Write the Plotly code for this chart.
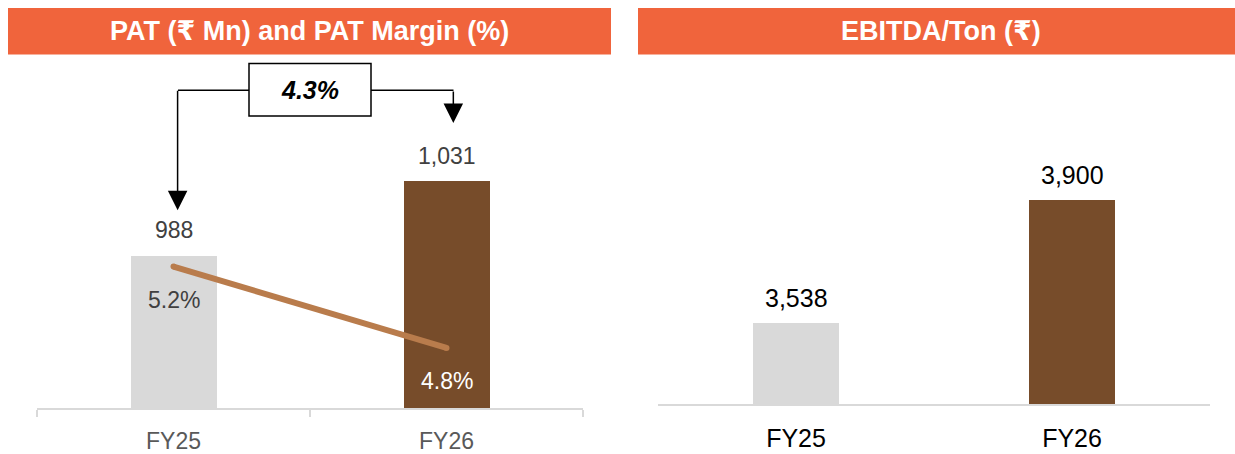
import plotly.graph_objects as go

# ---------------- data ----------------
years = ["FY25", "FY26"]
pat_values = [988, 1031]
pat_labels = ["988", "1,031"]
pat_margin = [5.2, 4.8]
pat_margin_labels = ["5.2%", "4.8%"]
pat_growth_label = "4.3%"
ebitda_ton = [3538, 3900]
ebitda_labels = ["3,538", "3,900"]
left_title = "PAT (₹ Mn) and PAT Margin (%)"
right_title = "EBITDA/Ton (₹)"

# ---------------- styles ----------------
W, H = 1235, 454
FONT = "Liberation Sans, Arial, DejaVu Sans, sans-serif"
ORANGE = "#F0643C"
GREY_BAR = "#D9D9D9"
BROWN_BAR = "#774C2A"
LINE_TAN = "#B97C4C"
DARK_TXT = "#404040"
AXIS_TXT = "#595959"
bar_colors = [GREY_BAR, BROWN_BAR]


def px_x(p):
    return p / W


def px_y(p):
    return 1 - p / H


fig = go.Figure()

# left panel bars
fig.add_trace(go.Bar(x=years, y=pat_values, marker=dict(color=bar_colors, line=dict(width=0)),
                     width=0.315, xaxis="x", yaxis="y", showlegend=False, hoverinfo="skip"))
# margin line
fig.add_trace(go.Scatter(x=years, y=pat_margin, mode="lines+markers",
                         line=dict(color=LINE_TAN, width=6),
                         marker=dict(color=LINE_TAN, size=6),
                         xaxis="x", yaxis="y2", showlegend=False, hoverinfo="skip"))
# right panel bars
fig.add_trace(go.Bar(x=years, y=ebitda_ton, marker=dict(color=bar_colors, line=dict(width=0)),
                     width=0.31, xaxis="x3", yaxis="y3", showlegend=False, hoverinfo="skip"))

annotations = []
# value labels
for yr, v, lab in zip(years, pat_values, pat_labels):
    annotations.append(dict(x=yr, y=v, xref="x", yref="y", text=lab, showarrow=False,
                            yanchor="middle", yshift=26,
                            font=dict(family=FONT, size=23, color=DARK_TXT)))
for i, (yr, v, lab) in enumerate(zip(years, pat_margin, pat_margin_labels)):
    annotations.append(dict(x=yr, y=v, xref="x", yref="y2", text=lab, showarrow=False,
                            yanchor="middle", yshift=-33,
                            font=dict(family=FONT, size=23, color=DARK_TXT if i == 0 else "white")))
for yr, v, lab in zip(years, ebitda_ton, ebitda_labels):
    annotations.append(dict(x=yr, y=v, xref="x3", yref="y3", text=lab, showarrow=False,
                            yanchor="middle", yshift=26,
                            font=dict(family=FONT, size=25, color="black")))

# headers
annotations.append(dict(x=px_x(309), y=px_y(31), xref="paper", yref="paper", text="<b>%s</b>" % left_title,
                        showarrow=False, xanchor="center", yanchor="middle",
                        font=dict(family=FONT, size=27, color="white")))
annotations.append(dict(x=px_x(941), y=px_y(31), xref="paper", yref="paper", text="<b>%s</b>" % right_title,
                        showarrow=False, xanchor="center", yanchor="middle",
                        font=dict(family=FONT, size=27, color="white")))

# growth callout
annotations.append(dict(x=0.5, y=px_y(91), xref="x", yref="paper", text="<b><i>%s</i></b>" % pat_growth_label,
                        showarrow=False, xanchor="center", yanchor="middle",
                        font=dict(family=FONT, size=25, color="black")))
# arrows
annotations.append(dict(x=0.015, y=px_y(212), xref="x", yref="paper", text="", showarrow=True,
                        ax=0, ay=-(212 - 91), arrowhead=2, arrowsize=2.6, arrowwidth=1.5,
                        arrowcolor="black", standoff=0, startstandoff=0))
annotations.append(dict(x=1.025, y=px_y(124), xref="x", yref="paper", text="", showarrow=True,
                        ax=0, ay=-(124 - 91), arrowhead=2, arrowsize=2.6, arrowwidth=1.5,
                        arrowcolor="black", standoff=0, startstandoff=0))

shapes = [
    dict(type="rect", xref="paper", yref="paper", x0=px_x(8), x1=px_x(611), y0=px_y(55), y1=px_y(8),
         fillcolor=ORANGE, line=dict(width=0), layer="below"),
    dict(type="rect", xref="paper", yref="paper", x0=px_x(638), x1=1.0, y0=px_y(55), y1=px_y(8),
         fillcolor=ORANGE, line=dict(width=0), layer="below"),
    # callout box
    dict(type="rect", xref="paper", yref="paper", x0=px_x(249), x1=px_x(371), y0=px_y(117), y1=px_y(64),
         fillcolor="white", line=dict(color="black", width=1.5)),
    # connectors
    dict(type="line", xref="paper", yref="paper", x0=px_x(178), x1=px_x(249), y0=px_y(91), y1=px_y(91),
         line=dict(color="black", width=1.5)),
    dict(type="line", xref="paper", yref="paper", x0=px_x(371), x1=px_x(453.5), y0=px_y(91), y1=px_y(91),
         line=dict(color="black", width=1.5)),
]

fig.update_layout(
    width=W, height=H,
    margin=dict(l=0, r=0, t=0, b=0),
    paper_bgcolor="white", plot_bgcolor="rgba(0,0,0,0)",
    font=dict(family=FONT),
    bargap=0,
    xaxis=dict(domain=[px_x(37), px_x(583)], range=[-0.5, 1.5], type="category",
               showline=True, linecolor=GREY_BAR, linewidth=2,
               ticks="outside", tickson="boundaries", ticklen=7, tickcolor=GREY_BAR, tickwidth=2,
               showgrid=False, zeroline=False, ticklabelstandoff=11,
               tickfont=dict(family=FONT, size=23, color=AXIS_TXT), anchor="y"),
    yaxis=dict(domain=[px_y(412), px_y(60)], range=[900, 1101.8], visible=False, showgrid=False,
               zeroline=False, anchor="x"),
    yaxis2=dict(domain=[px_y(412), px_y(60)], range=[4.5024, 6.2195], overlaying="y", visible=False,
                showgrid=False, zeroline=False, anchor="x"),
    xaxis3=dict(domain=[px_x(658), px_x(1210)], range=[-0.5, 1.5], type="category",
                showline=True, linecolor=GREY_BAR, linewidth=2, ticks="",
                showgrid=False, zeroline=False, ticklabelstandoff=11,
                tickfont=dict(family=FONT, size=25, color="black"), anchor="y3"),
    yaxis3=dict(domain=[px_y(408), px_y(60)], range=[3300, 4316], visible=False, showgrid=False,
                zeroline=False, anchor="x3"),
    annotations=annotations,
    shapes=shapes,
)

fig.write_html("out.html", config={"displayModeBar": False},
               post_script="document.body.style.margin='0';document.body.style.overflow='hidden';")
